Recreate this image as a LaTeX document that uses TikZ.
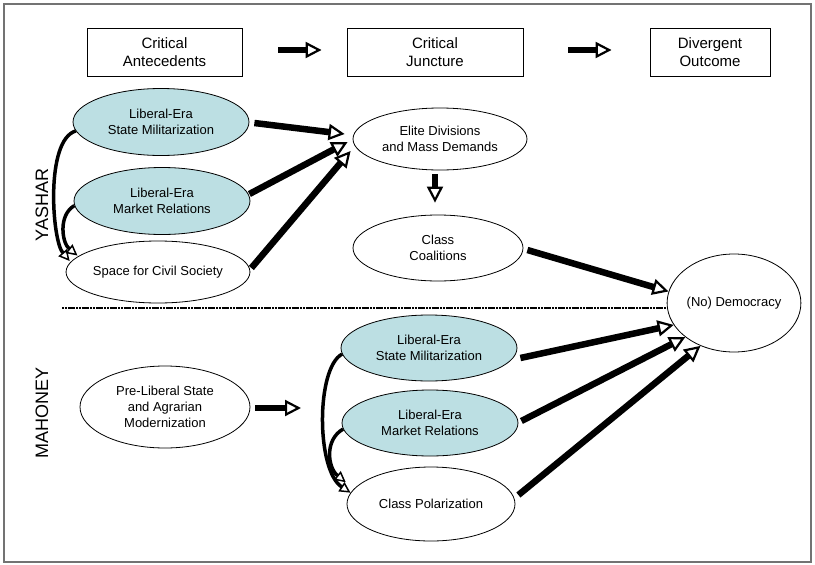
\documentclass[tikz,border=0pt]{standalone}
\usepackage{fontspec}
\setmainfont{Liberation Sans}
\usetikzlibrary{arrows.meta,shapes.geometric,calc}

\definecolor{eraBlue}{RGB}{188,223,227}
\definecolor{frameGray}{gray}{0.45}

\tikzset{
  hdr/.style={draw, line width=0.9pt, minimum height=48pt,
    inner sep=0pt, align=center, font=\fontsize{15}{18}\selectfont},
  oval/.style={ellipse, draw, line width=0.8pt, inner sep=0pt, align=center,
    fill=white, font=\fontsize{13}{16}\selectfont},
  era/.style={oval, fill=eraBlue},
  side/.style={rotate=90, font=\fontsize{18}{18}\selectfont},
  bigarrow/.style={line width=6.5pt,
    -{Triangle[length=16pt,width=16pt,line width=2.2pt,fill=white]}},
  curvearrow/.style={line width=3.5pt,
    -{Triangle[length=11pt,width=11pt,line width=1.5pt,fill=white]}},
  divider/.style={line width=1.8pt, dash pattern=on 2.2pt off 0.6pt},
}

\begin{document}
\begin{tikzpicture}[x=1pt, y=-1pt]
  \useasboundingbox (0,0) rectangle (815,565);
  \draw[frameGray, line width=1.2pt] (4,4) rectangle (811,562);

  % column headings
  \node[hdr, minimum width=155pt] (b1) at (164.5,52) {Critical\\Antecedents};
  \node[hdr, minimum width=176pt] (b2) at (435,52) {Critical\\Juncture};
  \node[hdr, minimum width=120pt] (b3) at (710,52) {Divergent\\Outcome};
  \draw[bigarrow] ([xshift=36pt,yshift=2pt]b1.east) -- ([xshift=-25pt,yshift=2pt]b2.west);
  \draw[bigarrow] ([xshift=45pt,yshift=2pt]b2.east) -- ([xshift=-38pt,yshift=2pt]b3.west);

  % side labels
  \node[side] (lab1) at (42,205) {YASHAR};
  \node[side] (lab2) at (42,413) {MAHONEY};

  % upper panel
  \node[era, minimum width=176pt, minimum height=67pt] (ye1) at (161,122) {Liberal-Era\\State Militarization};
  \node[era, minimum width=176pt, minimum height=67pt] (ye2) at (162,201) {Liberal-Era\\Market Relations};
  \node[oval, minimum width=170pt, minimum height=62pt] (ys) at (158,272) {Space for Civil Society};
  \node[oval, minimum width=174pt, minimum height=62pt] (elite) at (440,139) {Elite Divisions\\and Mass Demands};
  \node[oval, minimum width=170pt, minimum height=66pt] (cc) at (438,248) {Class\\Coalitions};
  \node[oval, minimum width=116pt, minimum height=98pt] (dem) at (734,303) {(No) Democracy};

  % divider between the two accounts
  \draw[divider] (62,308) -- (666,308);

  % lower panel
  \node[oval, minimum width=170pt, minimum height=82pt] (pl) at (165,407) {Pre-Liberal State\\and Agrarian\\Modernization};
  \node[era, minimum width=176pt, minimum height=66pt] (me1) at (429,348) {Liberal-Era\\State Militarization};
  \node[era, minimum width=176pt, minimum height=66pt] (me2) at (430,423) {Liberal-Era\\Market Relations};
  \node[oval, minimum width=168pt, minimum height=74pt] (cp) at (431,504) {Class Polarization};
  \coordinate (pltip) at (301,408);

  % upper panel links
  \draw[bigarrow] ($(ye1.east)+(5,1)$) -- ($(elite.west)+(-8,-5)$);
  \draw[bigarrow] ($(ye2.east)+(-1,-7)$) -- ($(elite.west)+(-5,3)$);
  \draw[bigarrow] ($(ys.east)+(1,-4)$) -- ($(elite.west)+(-2,12)$);
  \draw[bigarrow] ([xshift=-5pt,yshift=-4pt]elite.south) -- ([xshift=-3pt,yshift=12pt]cc.north);
  \draw[bigarrow] ($(cc.east)+(4,2)$) -- (dem.170);
  \draw[curvearrow] (ye1.186) .. controls (45,140) and (52,240) .. ($(ys.172)+(-3,1)$);
  \draw[curvearrow] (ye2.183) .. controls (58,215) and (62,243) .. ($(ys.165)+(-8,3)$);

  % lower panel links
  \draw[bigarrow] ($(pl.east)+(5,1)$) -- (pltip);
  \draw[bigarrow] ($(me1.east)+(3,10)$) -- (dem.200);
  \draw[bigarrow] ($(me2.east)+(3,-2)$) -- (dem.215);
  \draw[bigarrow] ($(cp.east)+(3,-9)$) -- (dem.232);
  \draw[curvearrow] (me1.184) .. controls (316,368) and (316,470) .. (cp.172);
  \draw[curvearrow] (me2.184) .. controls (324,440) and (328,468) .. ($(cp.160)+(-20,2)$);
\end{tikzpicture}
\end{document}
